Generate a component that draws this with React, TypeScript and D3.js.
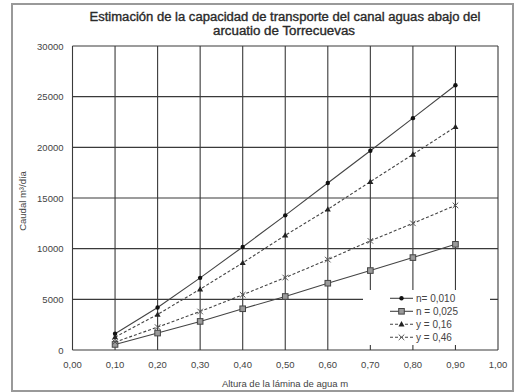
import React from 'react';
import * as d3 from 'd3';

const alturas = [0.1, 0.2, 0.3, 0.4, 0.5, 0.6, 0.7, 0.8, 0.9];
const n010 = [1600, 4200, 7120, 10170, 13290, 16480, 19660, 22880, 26130];
const n025 = [550, 1670, 2820, 4070, 5280, 6590, 7840, 9120, 10430];
const y016 = [1270, 3510, 6000, 8600, 11320, 13880, 16610, 19300, 22020];
const y046 = [780, 2260, 3800, 5450, 7150, 8920, 10770, 12500, 14270];

const xTicks = [0, 0.1, 0.2, 0.3, 0.4, 0.5, 0.6, 0.7, 0.8, 0.9, 1.0];
const yTicks = [0, 5000, 10000, 15000, 20000, 25000, 30000];
const seriesNames = ['n= 0,010', 'n = 0,025', 'y = 0,16', 'y = 0,46'];

const W = 516;
const H = 392;
const margin = { top: 46, right: 18, bottom: 42, left: 72.5 };
const FONT = 'Liberation Sans, Arial, sans-serif';
const INK = '#3a3a3a';

type Marker = 'dot' | 'square' | 'triangle' | 'cross';

function drawMarker(kind: Marker, x: number, y: number, key: string | number) {
  if (kind === 'dot') return <circle key={key} cx={x} cy={y} r={2.2} fill="#111" />;
  if (kind === 'square')
    return <rect key={key} x={x - 2.8} y={y - 2.8} width={5.6} height={5.6} fill="#9a9a9a" stroke="#444" strokeWidth={1} />;
  if (kind === 'triangle')
    return <path key={key} d={`M${x},${y - 3.2}L${x + 3},${y + 2.2}L${x - 3},${y + 2.2}Z`} fill="#222" />;
  return (
    <path key={key} d={`M${x - 2.8},${y - 2.8}L${x + 2.8},${y + 2.8}M${x - 2.8},${y + 2.8}L${x + 2.8},${y - 2.8}`}
      stroke="#555" strokeWidth={1} />
  );
}

export default function App() {
  const innerW = W - margin.left - margin.right;
  const innerH = H - margin.top - margin.bottom;
  const x = d3.scaleLinear().domain([0, 1]).range([margin.left, margin.left + innerW]);
  const y = d3.scaleLinear().domain([0, 30000]).range([margin.top + innerH, margin.top]);

  const series = [
    { name: seriesNames[0], values: n010, dash: undefined, marker: 'dot' as Marker },
    { name: seriesNames[1], values: n025, dash: undefined, marker: 'square' as Marker },
    { name: seriesNames[2], values: y016, dash: '3,2', marker: 'triangle' as Marker },
    { name: seriesNames[3], values: y046, dash: '3,2', marker: 'cross' as Marker },
  ];

  const line = d3.line<number>()
    .x((_, i) => x(alturas[i]))
    .y(d => y(d));

  const legX = 390;
  const legY = 298.3;
  const legStep = 13;

  return (
    <svg width={W} height={H} style={{ position: 'absolute', left: 0, top: 0 }}>
      <rect x={0} y={0} width={W} height={H} fill="#fff" />
      <rect x={12} y={4} width={501} height={387} fill="none" stroke="#999" strokeWidth={2} />

      <text x={285} y={21} textAnchor="middle" fontFamily={FONT} fontSize={12} fill="#2a2a2a"
        stroke="#2a2a2a" strokeWidth={0.35} textLength={391} lengthAdjust="spacingAndGlyphs">
        Estimación de la capacidad de transporte del canal aguas abajo del
      </text>
      <text x={284} y={35} textAnchor="middle" fontFamily={FONT} fontSize={12} fill="#2a2a2a"
        stroke="#2a2a2a" strokeWidth={0.35} textLength={142} lengthAdjust="spacingAndGlyphs">
        arcuatio de  Torrecuevas
      </text>

      {/* grid */}
      {yTicks.map(t => (
        <line key={'h' + t} x1={x(0)} x2={x(1)} y1={y(t)} y2={y(t)} stroke={INK} strokeWidth={1.1} />
      ))}
      {xTicks.map(t => (
        <line key={'v' + t} x1={x(t)} x2={x(t)} y1={y(0)} y2={y(30000)} stroke={INK} strokeWidth={1.1} />
      ))}

      {/* series */}
      {series.map(s => (
        <g key={s.name}>
          <path d={line(s.values) || ''} fill="none" stroke="#444" strokeWidth={1.1} strokeDasharray={s.dash} />
          {s.values.map((v, i) => drawMarker(s.marker, x(alturas[i]), y(v), i))}
        </g>
      ))}

      {/* axis labels */}
      {yTicks.map(t => (
        <text key={'yl' + t} x={x(0) - 9} y={y(t) + 3.5} textAnchor="end" fontFamily={FONT} fontSize={9.5} fill="#444">
          {t}
        </text>
      ))}
      {xTicks.map(t => (
        <text key={'xl' + t} x={x(t)} y={368} textAnchor="middle" fontFamily={FONT} fontSize={9.5} fill="#444">
          {t.toFixed(2).replace('.', ',')}
        </text>
      ))}
      <text x={285} y={387} textAnchor="middle" fontFamily={FONT} fontSize={9.5} fill="#444">
        Altura de la lámina de agua m
      </text>
      <text transform={`translate(26,${y(15000) + 3}) rotate(-90)`} textAnchor="middle" fontFamily={FONT} fontSize={9.5} fill="#444">
        Caudal m³/día
      </text>

      {/* legend */}
      <rect x={363} y={290} width={127} height={55} fill="#fff" />
      {series.map((s, i) => {
        const ly = legY + i * legStep;
        return (
          <g key={'lg' + s.name}>
            <line x1={legX} x2={legX + 23} y1={ly} y2={ly} stroke="#444" strokeWidth={1.1} strokeDasharray={s.dash} />
            {drawMarker(s.marker, legX + 11.5, ly, 'm')}
            <text x={legX + 26} y={ly + 3.5} fontFamily={FONT} fontSize={10} fill="#444">
              {s.name}
            </text>
          </g>
        );
      })}
    </svg>
  );
}
